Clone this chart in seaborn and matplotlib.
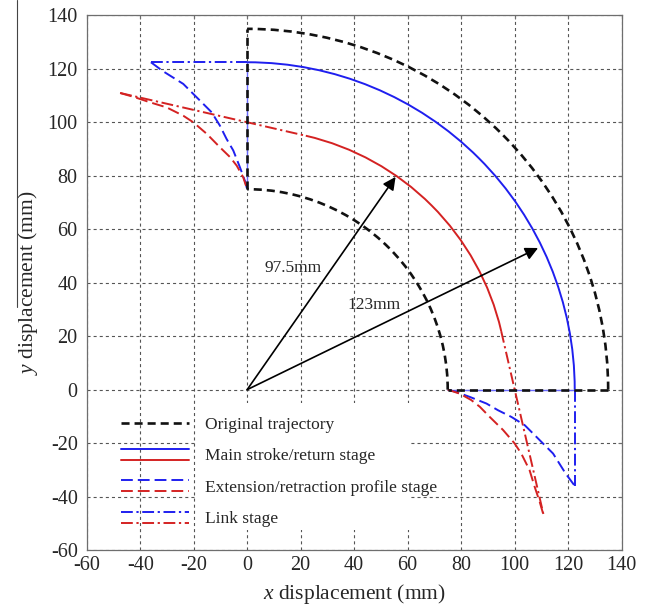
import numpy as np
import pandas as pd
import seaborn as sns
import matplotlib
matplotlib.use("Agg")
import matplotlib.pyplot as plt
from matplotlib.patches import Arc, Rectangle
from matplotlib.lines import Line2D
from matplotlib.legend_handler import HandlerBase

# ---------------------------------------------------------------- data
# original trajectory: inner / outer radii of the annular path (mm)
orig_r_inner = 75.0
orig_r_outer = 135.0

# main stroke / return stage (circular arcs, mm, degrees)
main_blue_r = 122.5
main_blue_theta = [0.0, 90.0]
main_red_r = 97.5
main_red_theta = [13.0, 77.0]

# link stage (straight segments)
link_blue_up_x = [-36.0, 0.0]
link_blue_up_y = [122.5, 122.5]
link_blue_dn_x = [122.5, 122.5]
link_blue_dn_y = [0.0, -36.0]
link_red_up_x = [-47.5, 21.9]
link_red_up_y = [111.0, 95.0]
link_red_dn_x = [95.0, 111.0]
link_red_dn_y = [21.9, -47.5]

# extension / retraction profile stage
ext_blue_up_x = [-36.0, -31.4, -23.9, -17.6, -13.3, -10.2, -7.7, -5.2, -2.7, -0.8, 0.0]
ext_blue_up_y = [122.5, 119.1, 114.4, 108.1, 103.8, 98.8, 93.8, 89.5, 83.2, 78.0, 75.0]
ext_blue_dn_x = [75.0, 78.0, 83.2, 89.5, 93.8, 98.8, 103.8, 108.1, 114.4, 119.1, 122.5]
ext_blue_dn_y = [0.0, -0.8, -2.7, -5.2, -7.7, -10.2, -13.3, -17.6, -23.9, -31.4, -36.0]
ext_red_up_x = [-47.5, -42.0, -36.3, -30.1, -23.9, -20.1, -15.1, -10.2, -6.4, -3.9, -1.5, 0.0]
ext_red_up_y = [111.0, 109.4, 107.5, 105.6, 102.5, 100.0, 95.7, 90.7, 87.0, 83.8, 79.5, 75.0]
ext_red_dn_x = [75.0, 79.5, 83.8, 87.0, 90.7, 95.7, 100.0, 102.5, 105.6, 107.5, 109.4, 111.0]
ext_red_dn_y = [0.0, -1.5, -3.9, -6.4, -10.2, -15.1, -20.1, -23.9, -30.1, -36.3, -42.0, -47.5]

# radius arrows
arrow_tip_x = [55.5, 108.8]
arrow_tip_y = [79.6, 53.0]
arrow_text = ["97.5mm", "123mm"]
arrow_text_x = [6.4, 37.4]
arrow_text_y = [45.5, 31.5]

ticks = [-60, -40, -20, 0, 20, 40, 60, 80, 100, 120, 140]

legend_labels = ["Original trajectory", "Main stroke/return stage",
                 "Extension/retraction profile stage", "Link stage"]

# ---------------------------------------------------------------- style
sns.set_style("white")
plt.rcParams["font.family"] = ["Liberation Serif", "DejaVu Serif"]
plt.rcParams["mathtext.fontset"] = "custom"
plt.rcParams["mathtext.rm"] = "Liberation Serif"
plt.rcParams["mathtext.it"] = "Liberation Serif:italic"
plt.rcParams["lines.scale_dashes"] = False
plt.rcParams["axes.unicode_minus"] = False

BLUE = "#1f1fef"
RED = "#d42222"
BLACK = "#111111"
LS_BLACK = (0, (5.8, 3.6))
LS_DASH = (0, (8.5, 3.6))
LS_DASHDOT = (0, (8.5, 2.6, 1.6, 2.6))
LW_BLACK = 1.9
LW_COL = 1.4

fig = plt.figure(figsize=(6.53, 6.07), dpi=100)
ax = fig.add_axes([0.1328, 0.0939, 0.8190, 0.8806])
ax.set_xlim(-60, 140)
ax.set_ylim(-60, 140)
ax.set_xticks(ticks)
ax.set_yticks(ticks)
ax.tick_params(direction="in", length=3, width=0.8, color="#6e6e6e",
               top=True, right=True, labelsize=14.5)
ax.tick_params(axis="x", pad=4)
ax.tick_params(axis="y", pad=6.5)
for s in ax.spines.values():
    s.set_color("#6e6e6e")
    s.set_linewidth(0.9)
ax.set_axisbelow(True)
ax.grid(True, color="#555555", linestyle=(0, (2.2, 2.2)), linewidth=0.8)

ax.set_xlabel(r"$\mathit{x}$ displacement (mm)", fontsize=15.5, labelpad=5)
ax.set_ylabel(r"$\mathit{y}$ displacement (mm)", fontsize=15.5, labelpad=5)

# white panel behind the legend text
ax.add_patch(Rectangle((-18.8, -52.6), 80.0, 47.6, facecolor="white",
                       edgecolor="none", zorder=1.5))


def line(x, y, color, ls, lw, z=3):
    df = pd.DataFrame({"x": x, "y": y})
    sns.lineplot(data=df, x="x", y="y", ax=ax, color=color, linestyle=ls,
                 linewidth=lw, sort=False, estimator=None, zorder=z)


def arc(r, t1, t2, color, ls, lw, z=3):
    ax.add_patch(Arc((0, 0), 2 * r, 2 * r, theta1=t1, theta2=t2, color=color,
                     linestyle=ls, linewidth=lw, zorder=z))


# thin blue guide under the straight edges of the original path
line([orig_r_inner, main_blue_r], [0, 0], "#6a6aff", "-", 1.0, z=2.5)
line([0, 0], [orig_r_inner, main_blue_r], "#6a6aff", "-", 1.0, z=2.5)

# main stroke / return stage
arc(main_blue_r, main_blue_theta[0], main_blue_theta[1], BLUE, "-", LW_COL)
arc(main_red_r, main_red_theta[0], main_red_theta[1], RED, "-", LW_COL)

# link stage
line(link_blue_up_x, link_blue_up_y, BLUE, LS_DASHDOT, LW_COL)
line(link_blue_dn_x, link_blue_dn_y, BLUE, LS_DASHDOT, LW_COL)
line(link_red_up_x, link_red_up_y, RED, LS_DASHDOT, LW_COL)
line(link_red_dn_x, link_red_dn_y, RED, LS_DASHDOT, LW_COL)

# extension / retraction profile stage
line(ext_blue_up_x, ext_blue_up_y, BLUE, LS_DASH, LW_COL)
line(ext_blue_dn_x, ext_blue_dn_y, BLUE, LS_DASH, LW_COL)
line(ext_red_up_x, ext_red_up_y, RED, LS_DASH, LW_COL)
line(ext_red_dn_x, ext_red_dn_y, RED, LS_DASH, LW_COL)

# original trajectory (closed annular sector)
arc(orig_r_outer, 0, 90, BLACK, LS_BLACK, LW_BLACK, z=4)
arc(orig_r_inner, 0, 90, BLACK, LS_BLACK, LW_BLACK, z=4)
line([0, 0], [orig_r_inner, orig_r_outer], BLACK, LS_BLACK, LW_BLACK, z=4)
line([orig_r_outer, orig_r_inner], [0, 0], BLACK, LS_BLACK, LW_BLACK, z=4)

# radius arrows and their labels
for tx, ty, lab, lx, ly in zip(arrow_tip_x, arrow_tip_y, arrow_text,
                               arrow_text_x, arrow_text_y):
    ax.annotate("", xy=(tx, ty), xytext=(0, 0),
                arrowprops=dict(arrowstyle="-|>", color="black", lw=1.2,
                                mutation_scale=19, shrinkA=0, shrinkB=0),
                zorder=5)
    ax.text(lx, ly, lab, fontsize=12.5, ha="left", va="center", zorder=5)


# legend: each stage shows a blue and a red sample stacked
class PairHandle:
    def __init__(self, ls, lw):
        self.colors = (BLUE, RED)
        self.ls = ls
        self.lw = lw


class PairHandler(HandlerBase):
    def create_artists(self, legend, orig_handle, xdescent, ydescent,
                       width, height, fontsize, trans):
        arts = []
        for c, yy in zip(orig_handle.colors, (0.95 * height, 0.05 * height)):
            ln = Line2D([-xdescent, width - xdescent],
                        [yy - ydescent, yy - ydescent],
                        color=c, linestyle=orig_handle.ls,
                        linewidth=orig_handle.lw)
            ln.set_transform(trans)
            arts.append(ln)
        return arts


handles = [
    Line2D([], [], color=BLACK, linestyle=LS_BLACK, linewidth=LW_BLACK),
    PairHandle("-", LW_COL),
    PairHandle(LS_DASH, LW_COL),
    PairHandle(LS_DASHDOT, LW_COL),
]
leg = ax.legend(handles, legend_labels,
                handler_map={PairHandle: PairHandler()},
                loc="upper left", bbox_to_anchor=(0.065, 0.249),
                borderaxespad=0, borderpad=0, frameon=False, fontsize=12.5,
                handlelength=3.9, handletextpad=0.9, labelspacing=0.88)
leg.set_zorder(6)

# thin rule along the left margin
fig.add_artist(Line2D([17 / 653, 17 / 653], [1.0, 1 - 307 / 607],
                      transform=fig.transFigure, color="#444444", lw=0.8))

fig.savefig("out.png", dpi=100)
